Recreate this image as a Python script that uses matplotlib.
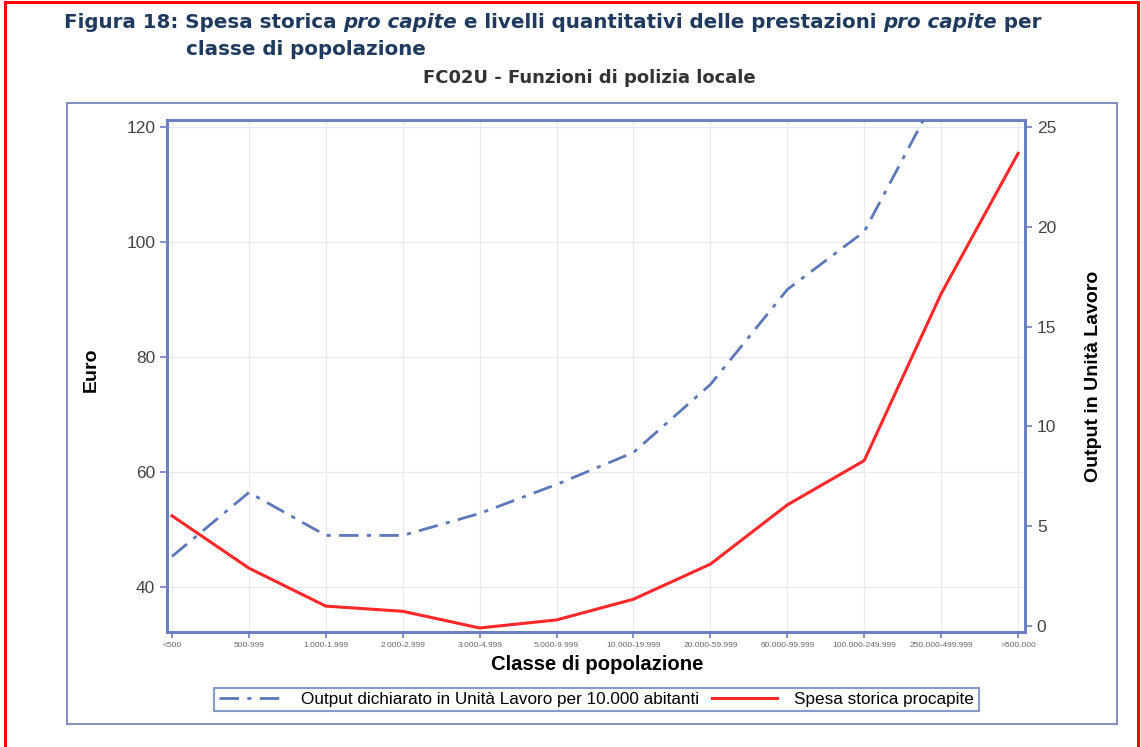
import matplotlib
matplotlib.use("Agg")
import matplotlib.pyplot as plt
from matplotlib.lines import Line2D
import numpy as np

categories = ["<500", "500-999", "1.000-1.999", "2.000-2.999", "3.000-4.999",
              "5.000-9.999", "10.000-19.999", "20.000-59.999", "60.000-99.999",
              "100.000-249.999", "250.000-499.999", ">500.000"]
spesa = [52.4, 43.3, 36.7, 35.8, 32.9, 34.3, 37.9, 44.0, 54.3, 62.0, 91.0, 115.4]
output_ul = [3.5, 6.7, 4.55, 4.55, 5.65, 7.1, 8.7, 12.1, 16.85, 19.75, 27.0, 33.0]
left_ticks = [40, 60, 80, 100, 120]
right_ticks = [0, 5, 10, 15, 20, 25]

W, H = 1141, 747
fig = plt.figure(figsize=(W/100, H/100), dpi=100)
fig.patch.set_facecolor("white")

def fx(x): return x / W
def fy(y): return 1 - y / H

# red outer border
for xs, ys in [([5, 5], [2, 747]), ([5, 1138], [2, 2]), ([1138, 1138], [2, 747])]:
    fig.add_artist(Line2D([fx(v) for v in xs], [fy(v) for v in ys], color="#ff0000", lw=2.2))

# blue inner box
bx0, by0, bx1, by1 = 67, 103, 1117, 724
fig.add_artist(plt.Rectangle((fx(bx0), fy(by1)), fx(bx1 - bx0), (by1 - by0) / H,
                             fill=False, edgecolor="#7585bd", lw=1.3))

blue = "#5b78b8"
spine_c = "#6a80c0"
dash = (0, (7, 3, 1.5, 3))
ax = fig.add_axes([fx(167), fy(632), fx(1025 - 167), (632 - 120) / H])
x = np.arange(len(categories))
ax.plot(x, spesa, color="#ff2828", lw=2.2, zorder=3)
ax.set_xlim(-0.065, 11.09)
ax.set_ylim(32.2, 121.2)
ax.set_yticks(left_ticks)
ax.set_xticks(x)
ax.set_xticklabels(categories, fontsize=6, color="#666666", family="Liberation Sans")
ax.grid(True, color="#e8e8f0", lw=0.8)
ax.set_axisbelow(True)
ax.tick_params(axis="y", labelsize=12.5, labelcolor="#444444", color=spine_c, length=5, width=1.2)
ax.tick_params(axis="x", color=spine_c, length=4, width=1.2, pad=3)
for lab in ax.get_yticklabels():
    lab.set_family("Liberation Sans")
for s in ax.spines.values():
    s.set_color(spine_c)
    s.set_linewidth(2)

ax2 = ax.twinx()
ax2.plot(x, output_ul, color=blue, lw=2, linestyle=dash, zorder=3)
ax2.set_ylim(-0.28, 25.33)
ax2.set_yticks(right_ticks)
ax2.tick_params(axis="y", labelsize=12.5, labelcolor="#444444", color=spine_c, length=5, width=1.2)
for lab in ax2.get_yticklabels():
    lab.set_family("Liberation Sans")
for s in ax2.spines.values():
    s.set_color(spine_c)
    s.set_linewidth(2)

fig.text(fx(91), fy(370), "Euro", rotation=90, ha="center", va="center",
         fontsize=14, fontweight="bold", family="Liberation Sans")
fig.text(fx(1093), fy(376), "Output in Unità Lavoro", rotation=90, ha="center", va="center",
         fontsize=14, fontweight="bold", family="Liberation Sans")
fig.text(fx(597), fy(664), "Classe di popolazione", ha="center", va="center",
         fontsize=14.6, fontweight="bold", family="Liberation Sans")

# legend
h1 = Line2D([], [], color=blue, lw=2, linestyle=dash)
h2 = Line2D([], [], color="#ff2828", lw=2.2)
leg = fig.legend([h1, h2], ["Output dichiarato in Unità Lavoro per 10.000 abitanti",
                            "Spesa storica procapite"],
                 loc="center", bbox_to_anchor=(fx(596.5), fy(699.5)), ncol=2,
                 frameon=True, fancybox=False, handlelength=3.8,
                 columnspacing=0.8, borderpad=0.25, handletextpad=1.0,
                 prop={"family": "Liberation Sans", "size": 12.3})
leg.get_frame().set_edgecolor("#6a80c0")
leg.get_frame().set_linewidth(1.5)

# title with mixed styles
title_c = "#1f3a5f"
fig.canvas.draw()
r = fig.canvas.get_renderer()
def seq(parts, x0, y0, size, color):
    xcur = x0
    for txt, style in parts:
        t = fig.text(fx(xcur), fy(y0), txt, fontsize=size, fontweight="bold",
                     fontstyle=style, color=color, family="DejaVu Sans", va="baseline")
        bb = t.get_window_extent(renderer=r)
        xcur += bb.width
seq([("Figura 18: Spesa storica ", "normal"), ("pro capite", "italic"),
     (" e livelli quantitativi delle prestazioni ", "normal"), ("pro capite", "italic"),
     (" per", "normal")], 64, 28, 14.3, title_c)
seq([("classe di popolazione", "normal")], 186, 55, 14.3, title_c)
fig.text(fx(589), fy(83), "FC02U - Funzioni di polizia locale", ha="center", va="baseline",
         fontsize=13, fontweight="bold", color="#333333", family="DejaVu Sans")

fig.savefig("out.png", dpi=100, facecolor="white")
